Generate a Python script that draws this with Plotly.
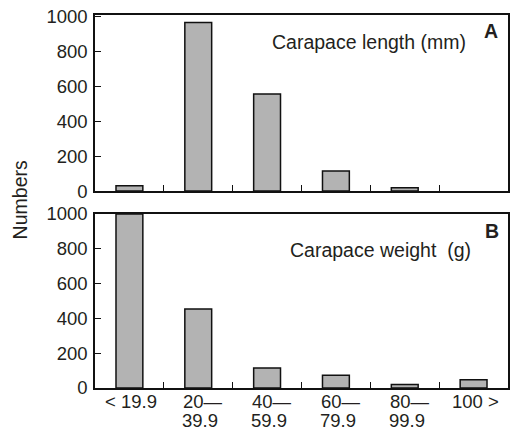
import plotly.graph_objects as go

categories = ["< 19.9", "20—39.9", "40—59.9", "60—79.9", "80—99.9", "100 >"]
label_line1 = ["< 19.9", "20—", "40—", "60—", "80—", "100 >"]
label_line2 = ["", "39.9", "59.9", "79.9", "99.9", ""]
length_counts = [30, 967, 557, 115, 19, 0]
weight_counts = [1000, 454, 115, 73, 20, 48]
y_ticks = [0, 200, 400, 600, 800, 1000]

FONT = "Liberation Sans, Arial, sans-serif"
TXT = "#231f20"
BAR = "#b3b3b3"
TICKSIZE = 18.5


def outline_widths(vals):
    return [1.5 if v > 0 else 0 for v in vals]


fig = go.Figure()
fig.add_trace(go.Bar(x=categories, y=length_counts, xaxis="x", yaxis="y",
                     marker=dict(color=BAR, line=dict(color="#111", width=outline_widths(length_counts))),
                     width=0.39, showlegend=False))
fig.add_trace(go.Bar(x=categories, y=weight_counts, xaxis="x2", yaxis="y2",
                     marker=dict(color=BAR, line=dict(color="#111", width=outline_widths(weight_counts))),
                     width=0.39, showlegend=False))

xcommon = dict(type="category", categoryorder="array", categoryarray=categories,
               range=[-0.5, 5.5], showline=True, mirror=True, linecolor="#111",
               linewidth=1.5, ticks="inside", ticklen=6, tickwidth=1.2,
               tickcolor="#111", tickson="boundaries", showticklabels=False,
               showgrid=False, zeroline=False)
ycommon = dict(showline=True, mirror=True, linecolor="#111", linewidth=1.5,
               ticks="inside", ticklen=6, tickwidth=1.2, tickcolor="#111",
               tickvals=y_ticks, ticktext=[str(v) for v in y_ticks],
               tickfont=dict(family=FONT, size=TICKSIZE, color=TXT),
               showgrid=False, zeroline=False, ticklabelstandoff=2)

fig.update_layout(
    width=514, height=430,
    margin=dict(l=95, r=4, t=15, b=42),
    paper_bgcolor="white", plot_bgcolor="white",
    bargap=0.6,
    xaxis=dict(domain=[0, 1], anchor="y", **xcommon),
    yaxis=dict(domain=[0.528, 1.0], anchor="x", range=[0, 1010], **ycommon),
    xaxis2=dict(domain=[0, 1], anchor="y2", **xcommon),
    yaxis2=dict(domain=[0.0, 0.4665], anchor="x2", range=[0, 1000], **ycommon),
)

ann = []
# x labels for bottom panel
for i, cat in enumerate(categories):
    two = label_line2[i] != ""
    ann.append(dict(x=cat, xref="x2", y=-0.0375, yref="paper", text=label_line1[i],
                    showarrow=False, xanchor="left" if two else "center",
                    xshift=-17 if two else 2, yanchor="middle",
                    font=dict(family=FONT, size=TICKSIZE, color=TXT)))
    if two:
        ann.append(dict(x=cat, xref="x2", y=-0.0871, yref="paper", text=label_line2[i],
                        showarrow=False, xanchor="left", xshift=-18, yanchor="middle",
                        font=dict(family=FONT, size=TICKSIZE, color=TXT)))

ann += [
    dict(x=-0.1807, y=0.504, xref="paper", yref="paper", text="Numbers",
         textangle=-90, showarrow=False, xanchor="center", yanchor="middle",
         font=dict(family=FONT, size=19.5, color=TXT)),
    dict(x=0.6627, y=0.9276, xref="paper", yref="paper", text="Carapace length (mm)",
         showarrow=False, xanchor="center", yanchor="middle",
         font=dict(family=FONT, size=19.5, color=TXT)),
    dict(x=0.959, y=0.957, xref="paper", yref="paper", text="<b>A</b>",
         showarrow=False, xanchor="center", yanchor="middle",
         font=dict(family=FONT, size=19.5, color=TXT)),
    dict(x=0.6916, y=0.370, xref="paper", yref="paper", text="Carapace weight\u00a0\u00a0(g)",
         showarrow=False, xanchor="center", yanchor="middle",
         font=dict(family=FONT, size=19.5, color=TXT)),
    dict(x=0.961, y=0.421, xref="paper", yref="paper", text="<b>B</b>",
         showarrow=False, xanchor="center", yanchor="middle",
         font=dict(family=FONT, size=19.5, color=TXT)),
]
fig.update_layout(annotations=ann)

fig.write_html("out.html")
